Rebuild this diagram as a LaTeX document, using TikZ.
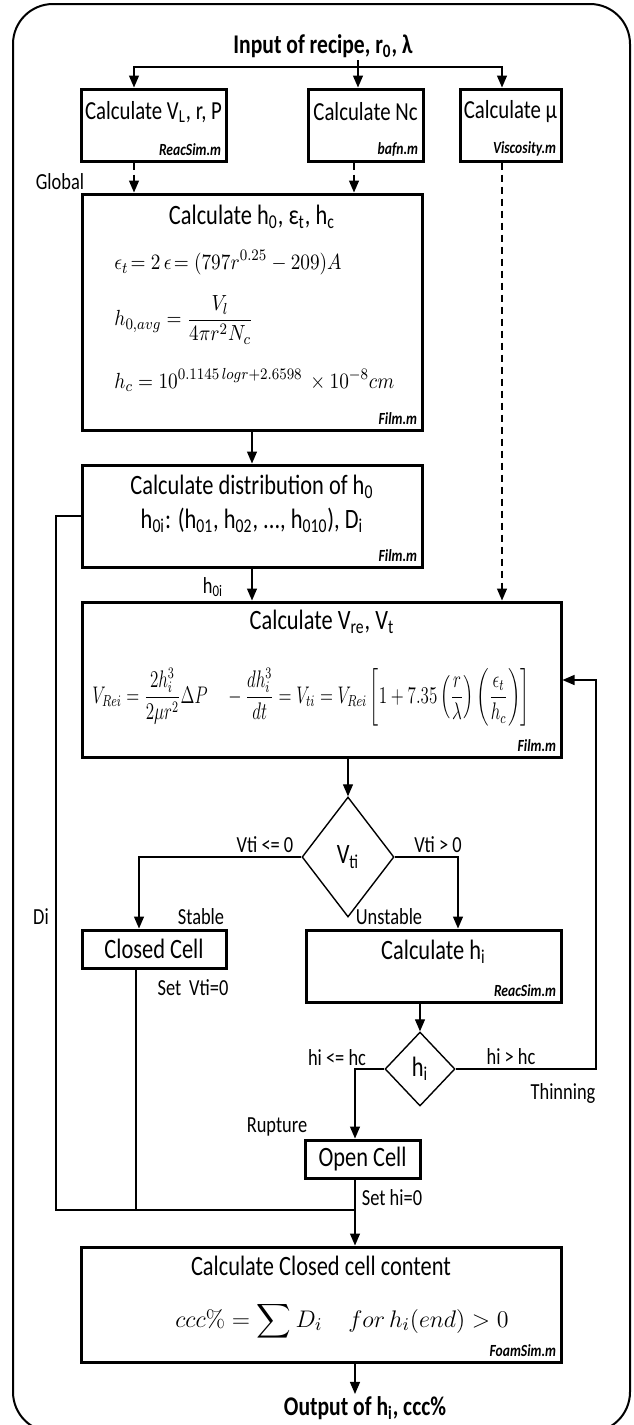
\documentclass[tikz,border=0pt]{standalone}
\usepackage[no-math]{fontspec}
\setmainfont{Carlito}[FakeStretch=0.8]
\usepackage{amsmath}
\usepackage{graphicx}
\usepackage{tikz}
\usetikzlibrary{positioning,arrows.meta,shapes.geometric}
\newcommand{\tsub}[1]{\textsubscript{#1}}
\newcommand{\eqn}[2][0.88]{\scalebox{#1}[1]{$\displaystyle #2$}}
\tikzset{
  frame/.style={draw,line width=1pt,rounded corners=20pt},
  box/.style={draw,line width=1.5pt,inner sep=0pt},
  dec/.style={draw,diamond,line width=0.7pt,inner sep=0pt,font=\fontsize{14}{16}\selectfont},
  txt/.style={inner sep=1pt,font=\fontsize{14}{16}\selectfont},
  toptxt/.style={inner sep=1pt,font=\fontsize{13}{15}\selectfont},
  head/.style={inner sep=1pt,font=\fontsize{13.5}{15}\selectfont\bfseries},
  src/.style={anchor=south east,inner sep=3pt,font=\fontsize{8.5}{9}\selectfont\bfseries\itshape},
  lbl/.style={inner sep=1pt,font=\fontsize{11.5}{13}\selectfont},
  eq/.style={inner sep=0pt,font=\fontsize{11}{13}\selectfont},
  ln/.style={line width=0.65pt},
  arr/.style={ln,-{Triangle[length=6pt,width=5pt]}},
  dsh/.style={arr,dash pattern=on 3.5pt off 2.5pt},
}
\begin{document}
\begin{tikzpicture}[x=0.5pt,y=-0.5pt]
  \useasboundingbox (0,0) rectangle (633,1425);
  \draw[frame] (13,4) rectangle (630,1432);
  % input and the three routines on top
  \node[head] (inp) at (323,46) {Input of recipe, r\tsub{0}, λ};
  \node[box,minimum width=72.5pt,minimum height=36pt] (vl) at (153.5,125) {};
  \node[box,minimum width=57.5pt,minimum height=36pt] (nc) at (365.5,125) {};
  \node[box,minimum width=50.5pt,minimum height=36pt] (mu) at (510.5,125) {};
  \node[toptxt] (tvl) at (153.5,112) {Calculate V\tsub{L}, r, P};
  \node[toptxt] (tnc) at (365.5,112) {Calculate Nc};
  \node[toptxt] (tmu) at (510.5,112) {Calculate μ};
  \node[src] (svl) at (vl.south east) {ReacSim.m};
  \node[src] (snc) at (nc.south east) {bafn.m};
  \node[src] (smu) at (mu.south east) {Viscosity.m};
  \node[lbl] (glob) at (60,182) {Global};
  % film thickness boxes
  \node[box,minimum width=170pt,minimum height=118pt] (film) at (252,312) {};
  \node[txt] (tfilm) at (252,217) {Calculate h\tsub{0}, ε\tsub{t}, h\tsub{c}};
  \node[eq,anchor=west] (e1) at (114,263) {\eqn{\epsilon_t\!= 2\,\epsilon\!= (797r^{0.25}-209)A}};
  \node[eq,anchor=west] (e2) at (114,320) {\eqn{h_{0,avg}=\frac{V_l}{4\pi r^2 N_c}}};
  \node[eq,anchor=west] (e3) at (114,380) {\eqn{h_c=10^{0.1145\,logr+2.6598}\ \times 10^{-8}cm}};
  \node[src] (sfilm) at (film.south east) {Film.m};
  \node[box,minimum width=170pt,minimum height=51pt] (dist) at (252,516) {};
  \node[txt] (tdist) at (252,487) {Calculate distribution of h\tsub{0}};
  \node[txt] (tdist2) at (252,520) {h\tsub{0i}: (h\tsub{01}, h\tsub{02}, ..., h\tsub{010}), D\tsub{i}};
  \node[src] (sdist) at (dist.south east) {Film.m};
  \node[lbl] (lh0i) at (213,587) {h\tsub{0i}};
  \node[box,minimum width=239.5pt,minimum height=77.5pt] (vre) at (321.5,679.5) {};
  \node[txt] (tvre) at (322,622) {Calculate V\tsub{re}, V\tsub{t}};
  \node[eq,font=\fontsize{12}{14}\selectfont] (e4) at (311,697) {\eqn[0.71]{V_{Rei}=\frac{2h_i^3}{2\mu r^2}\Delta P\quad-\frac{dh_i^3}{dt}=V_{ti}=V_{Rei}\left[1+7.35\left(\frac{r}{\lambda}\right)\left(\frac{\epsilon_t}{h_c}\right)\right]}};
  \node[src] (svre) at (vre.south east) {Film.m};
  % stability test
  \node[dec,minimum width=46pt,minimum height=60pt] (vti) at (348,857) {V\tsub{ti}};
  \node[box,minimum width=72pt,minimum height=19pt,font=\fontsize{14}{16}\selectfont] (cc) at (154,949) {Closed Cell};
  \node[box,minimum width=127.5pt,minimum height=36pt] (hib) at (433.5,966) {};
  \node[txt] (thib) at (433.5,952) {Calculate h\tsub{i}};
  \node[src] (shib) at (hib.south east) {ReacSim.m};
  \node[dec,minimum width=35pt,minimum height=37pt] (hid) at (420,1069) {h\tsub{i}};
  \node[box,minimum width=57.5pt,minimum height=19pt,font=\fontsize{14}{16}\selectfont] (oc) at (362.5,1159) {Open Cell};
  \node[box,minimum width=240pt,minimum height=57.5pt] (fb) at (321,1304.5) {};
  \node[txt] (tfb) at (321,1266) {Calculate Closed cell content};
  \node[eq,font=\fontsize{13}{15}\selectfont] (e5) at (342,1321) {\eqn[1]{ccc\%=\sum D_i\quad for\,h_i(end)>0}};
  \node[src] (sfb) at (fb.south east) {FoamSim.m};
  \node[head] (out) at (365,1408) {Output of h\tsub{i}, ccc\%};
  % branch labels
  \node[lbl] (lle) at (265,845) {Vti <= 0};
  \node[lbl] (lgt) at (438,845) {Vti > 0};
  \node[lbl] (lst) at (201,917) {Stable};
  \node[lbl] (lun) at (389,917) {Unstable};
  \node[lbl] (ldi) at (41,917) {Di};
  \node[lbl] (lsv) at (193,988) {Set\, Vti=0};
  \node[lbl] (lhle) at (337,1058) {hi <= hc};
  \node[lbl] (lhgt) at (511,1057) {hi > hc};
  \node[lbl] (lth) at (563,1093) {Thinning};
  \node[lbl] (lru) at (277,1127) {Rupture};
  \node[lbl] (lsh) at (392,1198) {Set hi=0};
  % rails
  \coordinate (fork) at (358,67);
  \coordinate (rA) at (134,0);
  \coordinate (rB) at (354,0);
  \coordinate (rC) at (502,0);
  \coordinate (rV) at (348,0);
  \coordinate (rL) at (139,0);
  \coordinate (rR) at (458,0);
  \coordinate (rS) at (136,0);
  \coordinate (rM) at (355,0);
  \coordinate (rD) at (56,1210);
  \coordinate (merge) at (355,1210);
  \coordinate (back) at (596,680);
  % connectors
  \draw[arr] (inp.south -| fork) -- (fork |- nc.north);
  \draw[arr] (fork) -| (rA |- vl.north);
  \draw[arr] (fork) -| (rC |- mu.north);
  \draw[dsh] (rA |- vl.south) -- (rA |- film.north);
  \draw[dsh] (rB |- nc.south) -- (rB |- film.north);
  \draw[dsh] (rC |- mu.south) -- (rC |- vre.north);
  \draw[arr] (film.south) -- (dist.north);
  \draw[arr] (dist.south) -- (dist.south |- vre.north);
  \draw[arr] (rV |- vre.south) -- (vti.north);
  \draw[arr] (vti.west) -| (rL |- cc.north);
  \draw[arr] (vti.east) -| (rR |- hib.north);
  \draw[arr] (hid.north |- hib.south) -- (hid.north);
  \draw[arr] (hid.west) -| (rM |- oc.north);
  \draw[arr] (hid.east) -| (back) -- (back -| vre.east);
  \draw[ln] (dist.west) -| (rD) -- (merge);
  \draw[ln] (rS |- cc.south) -- (rS |- merge);
  \draw[arr] (rM |- oc.south) -- (rM |- fb.north);
  \draw[arr] (rM |- fb.south) -- (rM |- out.north);
\end{tikzpicture}
\end{document}
